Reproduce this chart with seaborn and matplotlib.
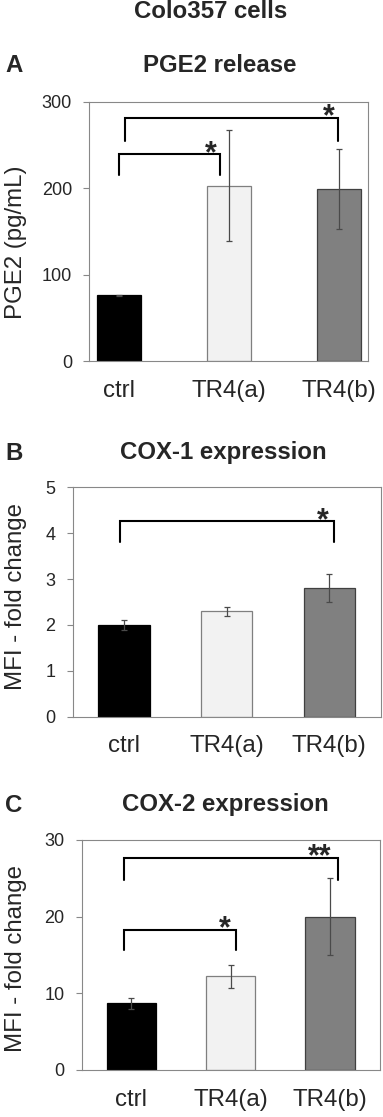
import matplotlib
matplotlib.use("Agg")
import matplotlib.pyplot as plt
import seaborn as sns

# -------------------------------
# DATA
# -------------------------------
categories = ["ctrl", "TR4(a)", "TR4(b)"]

pge2_vals = [76, 203, 199]
pge2_err = [1, 64, 46]

cox1_vals = [2.0, 2.3, 2.8]
cox1_err = [0.1, 0.1, 0.3]

cox2_vals = [8.7, 12.2, 20.0]
cox2_err = [0.7, 1.5, 5.0]

# significance brackets: (left leg, right leg, top, leg bottom, label, label x)
pge2_sig = [(0.0, 0.92, 240, 215, "*", 0.83), (0.05, 1.99, 282, 255, "*", 1.90)]
cox1_sig = [(-0.04, 2.05, 4.26, 3.81, "*", 1.94)]
cox2_sig = [(-0.07, 1.05, 18.3, 15.6, "*", 0.94), (-0.07, 2.08, 27.7, 24.8, "**", 1.90)]

face_colors = ["#000000", "#f2f2f2", "#808080"]
edge_colors = ["#000000", "#7f7f7f", "#404040"]

# -------------------------------
# STYLE
# -------------------------------
sns.set_style("white")
plt.rcParams["font.family"] = ["Liberation Sans", "DejaVu Sans"]

W, H = 383, 1117
fig = plt.figure(figsize=(W / 100, H / 100), dpi=100)

BIG = 17.3
TICK = 13
STAR = 22


def px_axes(left, right, top, bottom):
    return fig.add_axes([left / W, 1 - bottom / H, (right - left) / W, (bottom - top) / H])


def draw_panel(ax, vals, errs, sigs, ymax, yticks, xlim, width, ylabel, lab_y, px_per_unit):
    sns.barplot(x=categories, y=vals, hue=categories, palette=face_colors,
                legend=False, width=width, errorbar=None, ax=ax)
    for patch, ec in zip(ax.patches, edge_colors):
        patch.set_edgecolor(ec)
        patch.set_linewidth(0.9)
    ax.errorbar(range(len(vals)), vals, yerr=errs, fmt="none",
                ecolor="#4a4a4a", elinewidth=0.9, capsize=2.5, capthick=0.9)

    # star baseline sits a few px under the bracket line, glyph just above it
    star_dy = 8 / px_per_unit
    for xl, xr, top, bot, lab, sx in sigs:
        ax.plot([xl, xl, xr, xr], [bot, top, top, bot], color="black", lw=1.5,
                solid_joinstyle="miter")
        ax.text(sx, top - star_dy, lab, ha="center", va="baseline",
                fontsize=STAR, fontweight="bold")

    ax.set_xlim(*xlim)
    ax.set_ylim(0, ymax)
    ax.set_yticks(yticks)
    ax.set_yticklabels([str(t) for t in yticks])
    ax.tick_params(axis="y", left=True, length=4, width=0.8, color="#888888",
                   pad=8.5, labelsize=TICK)
    ax.tick_params(axis="x", bottom=False, length=0, pad=13.5, labelsize=BIG)
    for sp in ax.spines.values():
        sp.set_visible(True)
        sp.set_color("#888888")
        sp.set_linewidth(0.8)
    ax.set_ylabel(ylabel, fontsize=BIG, va="center")
    ax.yaxis.set_label_coords(16 / W, 1 - lab_y / H, transform=fig.transFigure)
    ax.set_xlabel("")


# -------------------------------
# PANEL A - PGE2
# -------------------------------
axA = px_axes(89.3, 368, 102, 361)
draw_panel(axA, pge2_vals, pge2_err, pge2_sig, 300, [0, 100, 200, 300],
           (-0.27, 2.26), 0.4, "PGE2 (pg/mL)", 242, 259 / 300)

# -------------------------------
# PANEL B - COX-1
# -------------------------------
axB = px_axes(72.7, 380.5, 487.3, 716.7)
draw_panel(axB, cox1_vals, cox1_err, cox1_sig, 5, [0, 1, 2, 3, 4, 5],
           (-0.5, 2.5), 0.5, "MFI - fold change", 597, 229.4 / 5)

# -------------------------------
# PANEL C - COX-2
# -------------------------------
axC = px_axes(81.7, 379.5, 840, 1070)
draw_panel(axC, cox2_vals, cox2_err, cox2_sig, 30, [0, 10, 20, 30],
           (-0.5, 2.5), 0.5, "MFI - fold change", 958, 230 / 30)

# -------------------------------
# TITLES
# -------------------------------
fig.text(211 / W, 1 - 12 / H, "Colo357 cells", ha="center", va="center",
         fontsize=BIG, fontweight="bold")
for letter, title, tx, ty in [("A", "PGE2 release", 220, 65),
                              ("B", "COX-1 expression", 223, 453),
                              ("C", "COX-2 expression", 225, 805)]:
    fig.text(5 / W, 1 - ty / H, letter, ha="left", va="center",
             fontsize=BIG, fontweight="bold")
    fig.text(tx / W, 1 - ty / H, title, ha="center", va="center",
             fontsize=BIG, fontweight="bold")

fig.savefig("out.png", dpi=100)
